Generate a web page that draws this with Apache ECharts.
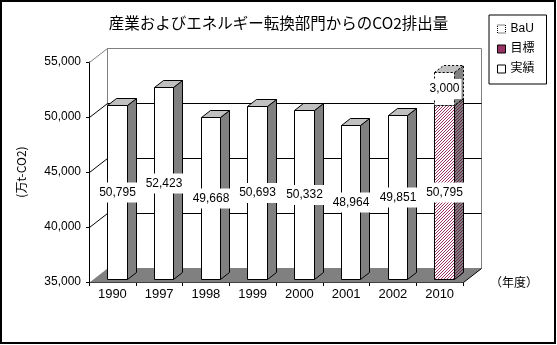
<!DOCTYPE html>
<html>
<head>
<meta charset="utf-8">
<script src="https://cdn.jsdelivr.net/npm/echarts@6/dist/echarts.min.js"></script>
<style>
  html, body { margin: 0; padding: 0; background: #fff; }
  #chart { width: 557px; height: 345px; }
</style>
</head>
<body>
<div id="chart"></div>
<script>
// Fiscal years on the category axis
const categories = ['1990', '1997', '1998', '1999', '2000', '2001', '2002', '2010'];
// Emissions, 10,000 t-CO2
const actualValues = [50795, 52423, 49668, 50693, 50332, 48964, 49851, null];  // 実績
const targetValues = [null, null, null, null, null, null, null, 50795];        // 目標
const bauValues    = [null, null, null, null, null, null, null, 3000];         // BaU (stacked on 目標)
// Value axis
const valueTicks = [35000, 40000, 45000, 50000, 55000];
const seriesNames = ['BaU', '目標', '実績'];

const Y_MIN = valueTicks[0];
const Y_MAX = valueTicks[valueTicks.length - 1];
const Y_STEP = valueTicks[1] - valueTicks[0];

// pseudo-3D depth of the plot box (px)
const DEPTH_X = 18;
const DEPTH_Y = 14;
const BAR_RATIO = 0.42;

const NUM_FONT = '"Liberation Sans", "Noto Sans CJK JP", sans-serif';
const JP_FONT = '"Noto Sans CJK JP", sans-serif';
const MAROON = '#993366';

function fmt(v) {
  return String(v).replace(/\B(?=(\d{3})+(?!\d))/g, ',');
}

function hatchPattern(bg, fg) {
  const n = 3;
  const c = document.createElement('canvas');
  c.width = n; c.height = n;
  const g = c.getContext('2d');
  g.fillStyle = bg; g.fillRect(0, 0, n, n);
  g.fillStyle = fg;
  for (let i = 0; i < n; i++) g.fillRect(n - 1 - i, i, 1, 1);
  return { image: c, repeat: 'repeat' };
}

const FACE_STYLES = {
  actual: {
    front: { fill: '#ffffff' }, side: { fill: '#808080' }, top: { fill: '#c0c0c0' }, dash: null
  },
  target: {
    front: { fill: hatchPattern('#ffffff', MAROON) },
    side: { fill: hatchPattern('#808080', '#662244') },
    top: { fill: '#c0c0c0' }, dash: null
  },
  bau: {
    front: { fill: '#ffffff' }, side: { fill: '#808080' }, top: { fill: '#c0c0c0' }, dash: [2, 2]
  }
};

function px(v) { return Math.round(v) + 0.5; }

function makeBarRenderer(kind) {
  const fs = FACE_STYLES[kind];
  return function (params, api) {
    const ci = api.value(0);
    const from = api.value(1);
    const to = api.value(2);
    const shown = api.value(3);
    const pb = api.coord([ci, from]);
    const pt = api.coord([ci, to]);
    const w = api.size([1, 0])[0] * BAR_RATIO;
    const ox = DEPTH_X / 4, oy = DEPTH_Y / 4;
    const dx = DEPTH_X / 2, dy = DEPTH_Y / 2;
    const xl = px(pb[0] - w / 2 + ox);
    const xr = px(pb[0] + w / 2 + ox);
    const yb = px(pb[1] - oy);
    const yt = px(pt[1] - oy);
    const line = { stroke: '#000', lineWidth: 1 };
    if (fs.dash) line.lineDash = fs.dash;
    const children = [
      {
        type: 'polygon',
        shape: { points: [[xr, yt], [xr + dx, yt - dy], [xr + dx, yb - dy], [xr, yb]] },
        style: Object.assign({}, fs.side, line)
      },
      {
        type: 'polygon',
        shape: { points: [[xl, yt], [xl + dx, yt - dy], [xr + dx, yt - dy], [xr, yt]] },
        style: Object.assign({}, fs.top, line)
      },
      {
        type: 'rect',
        shape: { x: xl, y: yt, width: xr - xl, height: yb - yt },
        style: Object.assign({}, fs.front, line)
      },
      {
        type: 'text',
        x: (xl + xr) / 2,
        y: (yt + yb) / 2,
        style: {
          text: fmt(shown),
          fill: '#000',
          font: '12px ' + NUM_FONT,
          align: 'center',
          verticalAlign: 'middle',
          backgroundColor: '#fff',
          padding: [4, 2]
        }
      }
    ];
    return { type: 'group', children: children };
  };
}

function renderWalls(params, api) {
  const cs = params.coordSys;
  const xl = px(cs.x);
  const xr = px(cs.x + cs.width);
  const yb = px(api.coord([0, Y_MIN])[1]);
  const yt = px(api.coord([0, Y_MAX])[1]);
  const children = [];
  // back wall
  children.push({
    type: 'rect',
    shape: { x: xl + DEPTH_X, y: yt - DEPTH_Y, width: xr - xl, height: yb - yt },
    style: { fill: '#fff', stroke: '#808080', lineWidth: 1 }
  });
  valueTicks.forEach(function (v) {
    if (v === Y_MIN) return;
    const y = px(api.coord([0, v])[1]);
    const c = v === Y_MAX ? '#808080' : '#000';
    if (v !== Y_MAX) {
      children.push({
        type: 'line',
        shape: { x1: xl + DEPTH_X, y1: y - DEPTH_Y, x2: xr + DEPTH_X, y2: y - DEPTH_Y },
        style: { stroke: '#000', lineWidth: 1 }
      });
    }
    children.push({
      type: 'line',
      shape: { x1: xl, y1: y, x2: xl + DEPTH_X, y2: y - DEPTH_Y },
      style: { stroke: c, lineWidth: 1 }
    });
  });
  // floor
  children.push({
    type: 'polygon',
    shape: { points: [[xl, yb], [xr, yb], [xr + DEPTH_X, yb - DEPTH_Y], [xl + DEPTH_X, yb - DEPTH_Y]] },
    style: { fill: '#808080' }
  });
  children.push({
    type: 'line',
    shape: { x1: xr, y1: yb, x2: xr + DEPTH_X, y2: yb - DEPTH_Y },
    style: { stroke: '#000', lineWidth: 1 }
  });
  return { type: 'group', children: children };
}

// [category index, bar start, bar end, shown value]
function toItems(values, bases) {
  const out = [];
  values.forEach(function (v, i) {
    if (v == null) return;
    if (bases) {
      out.push([i, bases[i], bases[i] + v, v]);
    } else {
      out.push([i, Y_MIN, v, v]);
    }
  });
  return out;
}

const actualItems = toItems(actualValues);
const targetItems = toItems(targetValues);
const bauItems = toItems(bauValues, targetValues);

const chart = echarts.init(document.getElementById('chart'), null, { renderer: 'canvas' });

chart.setOption({
  animation: false,
  backgroundColor: '#fff',
  title: {
    text: '産業およびエネルギー転換部門からのCO2排出量',
    left: 'center',
    top: 10,
    textStyle: { fontFamily: JP_FONT, fontSize: 15.5, fontWeight: 'normal', color: '#000' }
  },
  legend: {
    orient: 'vertical',
    left: 489,
    top: 15,
    padding: [8, 12, 9, 8],
    itemGap: 8,
    itemWidth: 8,
    itemHeight: 8,
    borderColor: '#000',
    borderWidth: 1,
    borderRadius: 0,
    selectedMode: false,
    textStyle: { fontFamily: NUM_FONT, fontSize: 12, color: '#000' },
    data: [
      { name: seriesNames[0], icon: 'rect',
        itemStyle: { color: '#fff', borderColor: '#000', borderWidth: 1, borderType: 'dotted' } },
      { name: seriesNames[1], icon: 'rect',
        itemStyle: { color: MAROON, borderColor: '#000', borderWidth: 1 } },
      { name: seriesNames[2], icon: 'rect',
        itemStyle: { color: '#fff', borderColor: '#000', borderWidth: 1 } }
    ]
  },
  grid: { left: 89, right: 94, top: 62, bottom: 63, containLabel: false },
  xAxis: {
    type: 'category',
    data: categories,
    boundaryGap: true,
    name: '（年度）',
    nameLocation: 'end',
    nameGap: 27,
    nameTextStyle: { fontFamily: JP_FONT, fontSize: 12, color: '#000', padding: [0, 0, 8, 0] },
    axisLine: { show: true, lineStyle: { color: '#000', width: 1 } },
    axisTick: { show: true, alignWithLabel: false, length: 4, lineStyle: { color: '#000' } },
    axisLabel: { color: '#000', fontFamily: NUM_FONT, fontSize: 13, margin: 6 },
    splitLine: { show: false }
  },
  yAxis: {
    type: 'value',
    min: Y_MIN,
    max: Y_MAX,
    interval: Y_STEP,
    name: '(万t-CO2)',
    nameLocation: 'middle',
    nameRotate: 90,
    nameGap: 62,
    nameTextStyle: { fontFamily: JP_FONT, fontSize: 12, color: '#000' },
    axisLine: { show: true, lineStyle: { color: '#000', width: 1 } },
    axisTick: { show: true, inside: false, length: 3, lineStyle: { color: '#000' } },
    axisLabel: { color: '#000', fontFamily: NUM_FONT, fontSize: 12, margin: 8, formatter: fmt },
    splitLine: { show: false }
  },
  graphic: [{
    type: 'rect',
    shape: { x: 1, y: 1, width: 554, height: 342 },
    style: { fill: null, stroke: '#000', lineWidth: 2 },
    silent: true,
    z: 100
  }],
  series: [
    {
      type: 'custom',
      name: '_walls',
      data: [[0, Y_MIN, Y_MIN, 0]],
      renderItem: renderWalls,
      z: 1,
      silent: true,
      clip: false
    },
    {
      type: 'custom',
      name: seriesNames[2],
      data: actualItems,
      encode: { x: 0, y: [1, 2] },
      renderItem: makeBarRenderer('actual'),
      itemStyle: { color: '#fff' },
      z: 3,
      clip: false
    },
    {
      type: 'custom',
      name: seriesNames[1],
      data: targetItems,
      encode: { x: 0, y: [1, 2] },
      renderItem: makeBarRenderer('target'),
      itemStyle: { color: MAROON },
      z: 3,
      clip: false
    },
    {
      type: 'custom',
      name: seriesNames[0],
      data: bauItems,
      encode: { x: 0, y: [1, 2] },
      renderItem: makeBarRenderer('bau'),
      itemStyle: { color: '#fff' },
      z: 3,
      clip: false
    }
  ]
});
</script>
</body>
</html>
